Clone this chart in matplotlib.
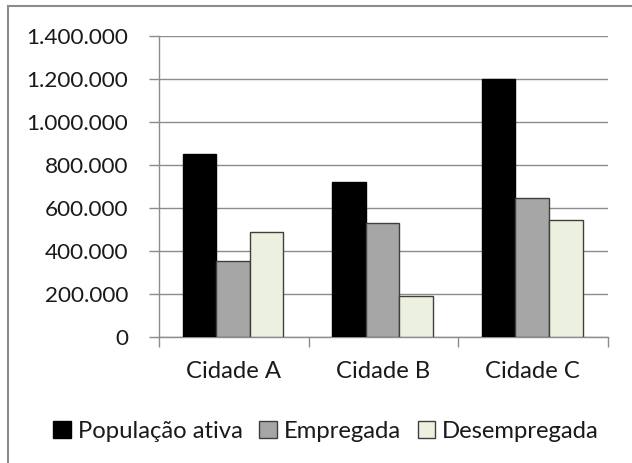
import matplotlib
matplotlib.use("Agg")
import matplotlib.pyplot as plt
from matplotlib.patches import Patch
from matplotlib.ticker import FuncFormatter
import numpy as np

categories = ["Cidade A", "Cidade B", "Cidade C"]
series_names = ["População ativa", "Empregada", "Desempregada"]
populacao_ativa = [850000, 720000, 1200000]
empregada = [356000, 530000, 648000]
desempregada = [487000, 190000, 545000]
y_ticks = [0, 200000, 400000, 600000, 800000, 1000000, 1200000, 1400000]

colors = ["#000000", "#a6a6a6", "#ebf1de"]
edge = "#3f3f3f"
grid_c = "#8c8c8c"
text_c = "#1a1a1a"

plt.rcParams['font.family'] = ['Lato', 'DejaVu Sans']
fs_y = 16.2
fs_x = 17.2

fig = plt.figure(figsize=(6.32, 4.63), dpi=100)
ax = fig.add_axes([159/632, 1-337.3/463, (607.7-159)/632, (337.3-36)/463])

x = np.arange(len(categories))
w = 0.2246
data = [populacao_ativa, empregada, desempregada]
for i, (vals, c) in enumerate(zip(data, colors)):
    ax.bar(x + (i-1)*w - 0.005, vals, width=w, color=c, edgecolor=edge if i > 0 else c,
           linewidth=1.0, zorder=3)

ax.set_xlim(-0.5, 2.5)
ax.set_ylim(0, 1400000)
ax.set_yticks(y_ticks)
ax.yaxis.set_major_formatter(FuncFormatter(lambda v, p: f"{int(v):,}".replace(",", ".")))
ax.grid(axis='y', color=grid_c, linewidth=1.0, zorder=0)
ax.set_axisbelow(True)

ax.set_xticks(x)
ax.set_xticklabels(categories)
ax.set_xticks([-0.5, 0.5, 1.5, 2.5], minor=True)
ax.tick_params(axis='x', which='major', length=0, pad=17, labelsize=fs_x, labelcolor=text_c)
ax.tick_params(axis='x', which='minor', length=7, color=grid_c, width=1)
ax.tick_params(axis='y', length=7, color=grid_c, width=1, labelsize=fs_y, labelcolor=text_c, pad=15)

for s in ['top', 'right']:
    ax.spines[s].set_visible(False)
for s in ['left', 'bottom']:
    ax.spines[s].set_color(grid_c)
    ax.spines[s].set_linewidth(1.0)

handles = [Patch(facecolor=c, edgecolor=edge if i > 0 else c, linewidth=1.0)
           for i, c in enumerate(colors)]
fig.legend(handles, series_names, loc='center', bbox_to_anchor=(326/632, 1-431/463),
           ncol=3, frameon=False, fontsize=fs_x, handlelength=0.72, handleheight=0.72,
           handletextpad=0.3, columnspacing=0.7, labelcolor=text_c)

# outer border (top and left visible)
fig.add_artist(plt.Line2D([8/632, 1], [1-6/463, 1-6/463], color="#8c8c8c", linewidth=1.5))
fig.add_artist(plt.Line2D([8/632, 8/632], [0, 1-6/463], color="#8c8c8c", linewidth=1.5))

fig.savefig("out.png", dpi=100)
